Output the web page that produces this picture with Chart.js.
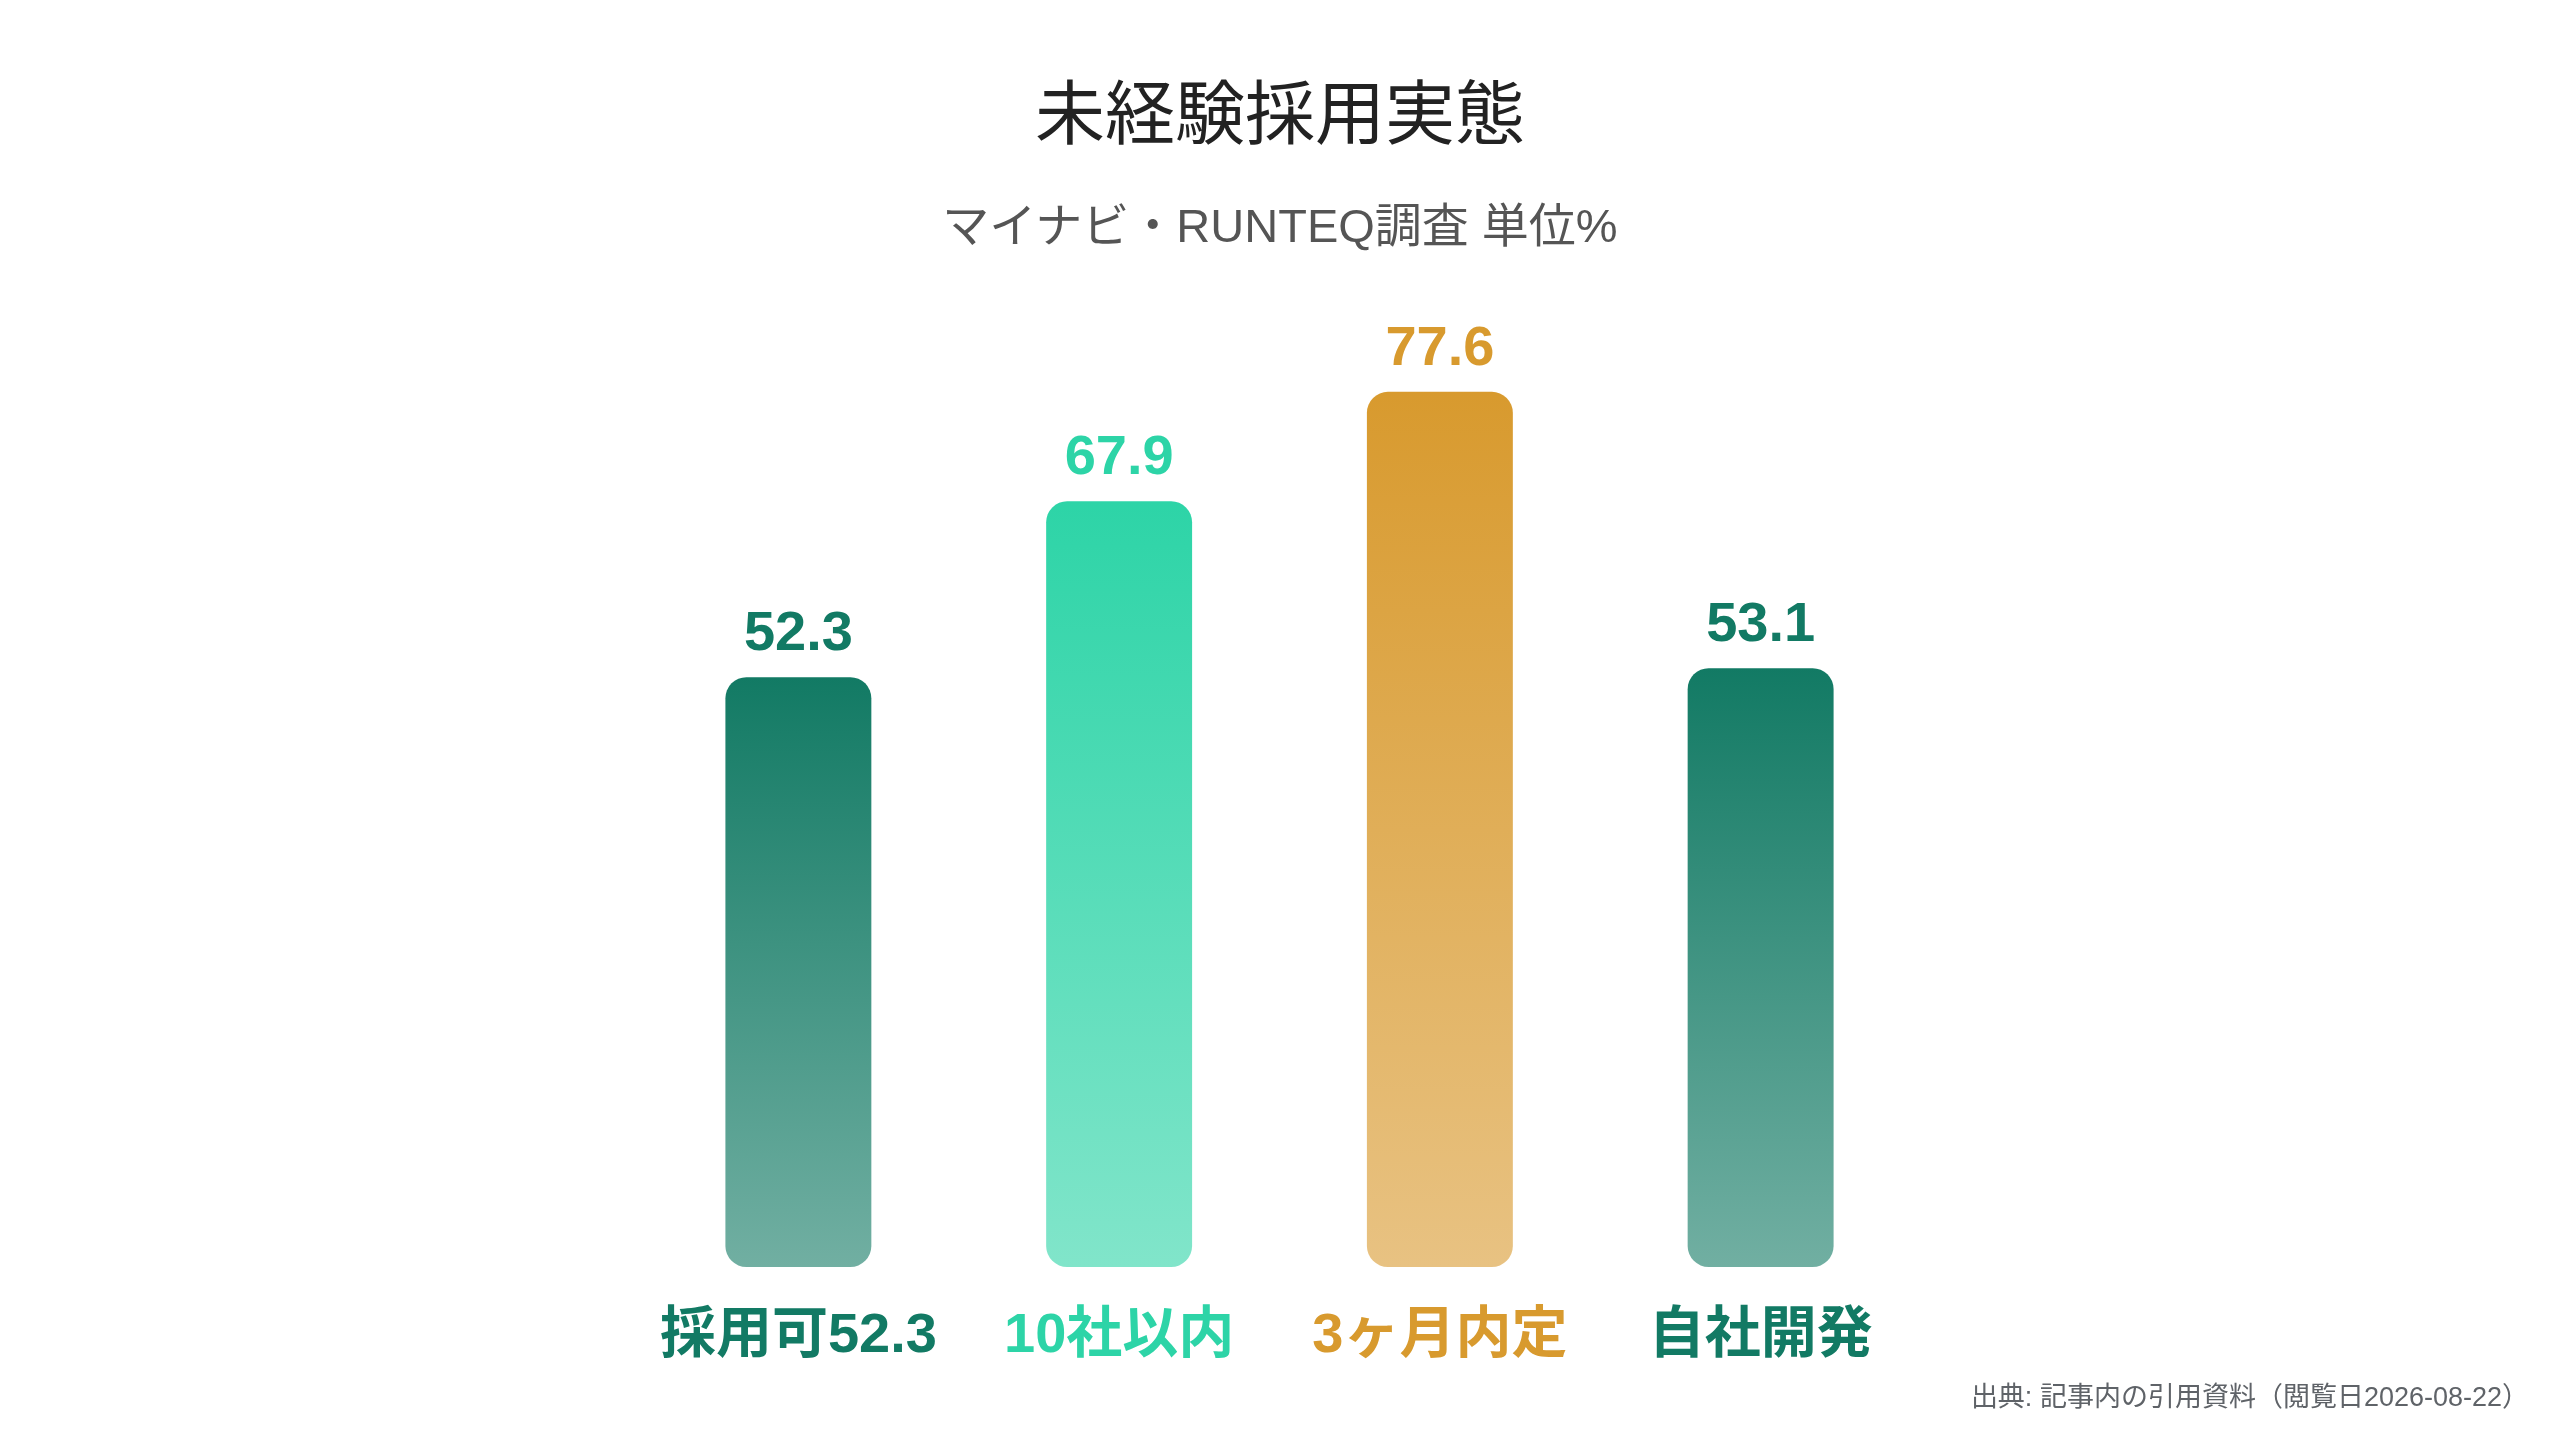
<!DOCTYPE html>
<html lang="ja">
<head>
<meta charset="utf-8">
<title>未経験採用実態</title>
<script src="https://cdn.jsdelivr.net/npm/chart.js@4.4.1/dist/chart.umd.min.js"></script>
<style>
  html, body { margin: 0; padding: 0; background: #ffffff; }
  #wrap { position: relative; width: 2560px; height: 1440px; overflow: hidden; background: #ffffff; }
  #chart { position: absolute; left: 0; top: 0; }
  .txt { position: absolute; white-space: nowrap; line-height: 1; }
  #title { left: 0; width: 2560px; text-align: center; top: 58px; font: 400 70px "Noto Sans CJK JP", sans-serif; color: #222222; }
  #subtitle { left: 0; width: 2560px; text-align: center; top: 187px; font: 400 47px "Liberation Sans", "Noto Sans CJK JP", sans-serif; color: #555555; }
  #note { right: 31px; top: 1375px; font: 400 27px "Liberation Sans", "Noto Sans CJK JP", sans-serif; color: #5f6368; }
</style>
</head>
<body>
<div id="wrap">
  <canvas id="chart" width="2560" height="1440"></canvas>
  <div id="title" class="txt">未経験採用実態</div>
  <div id="subtitle" class="txt">マイナビ・RUNTEQ調査 単位%</div>
  <div id="note" class="txt">出典: 記事内の引用資料（閲覧日2026-08-22）</div>
</div>
<script>
// ---- data ----
const categories = ["採用可52.3", "10社以内", "3ヶ月内定", "自社開発"];
const values = [52.3, 67.9, 77.6, 53.1];
const barColors = ["#127a64", "#2dd4a7", "#d89a2e", "#127a64"];
const barColorsLight = ["#71afa2", "#81e5ca", "#e8c282", "#71afa2"];
const yMin = 0;
const yMax = 90;

function barGradient(context) {
  const chart = context.chart;
  const i = context.dataIndex;
  const area = chart.chartArea;
  const ys = chart.scales && chart.scales.y;
  if (!area || !ys || i === undefined) return barColors[i || 0];
  const top = ys.getPixelForValue(values[i]);
  const bottom = ys.getPixelForValue(0);
  const g = chart.ctx.createLinearGradient(0, top, 0, bottom);
  g.addColorStop(0, barColors[i]);
  g.addColorStop(1, barColorsLight[i]);
  return g;
}

const valueLabels = {
  id: "valueLabels",
  afterDatasetsDraw(chart) {
    const ctx = chart.ctx;
    const meta = chart.getDatasetMeta(0);
    ctx.save();
    ctx.font = "700 56px 'Liberation Sans', 'Noto Sans CJK JP', sans-serif";
    ctx.textAlign = "center";
    ctx.textBaseline = "alphabetic";
    meta.data.forEach((bar, i) => {
      ctx.fillStyle = barColors[i];
      ctx.fillText(String(values[i]), bar.x, bar.y - 27);
    });
    ctx.restore();
  }
};

new Chart(document.getElementById("chart"), {
  type: "bar",
  data: {
    labels: categories,
    datasets: [{
      data: values,
      backgroundColor: barGradient,
      borderWidth: 0,
      borderRadius: 21,
      borderSkipped: false,
      categoryPercentage: 1,
      barPercentage: 0.455
    }]
  },
  options: {
    responsive: false,
    devicePixelRatio: 1,
    animation: false,
    layout: { padding: { left: 638, right: 639, top: 252, bottom: 0 } },
    plugins: {
      legend: { display: false },
      tooltip: { enabled: false },
      title: { display: false }
    },
    scales: {
      x: {
        grid: { display: false, drawTicks: false },
        border: { display: false },
        ticks: {
          padding: 36,
          font: { family: "'Liberation Sans', 'Noto Sans CJK JP', sans-serif", size: 56, weight: "700" },
          color: (c) => barColors[c.index]
        },
        afterFit: (s) => { s.height = 173; }
      },
      y: {
        display: false,
        min: yMin,
        max: yMax
      }
    }
  },
  plugins: [valueLabels]
});
</script>
</body>
</html>
